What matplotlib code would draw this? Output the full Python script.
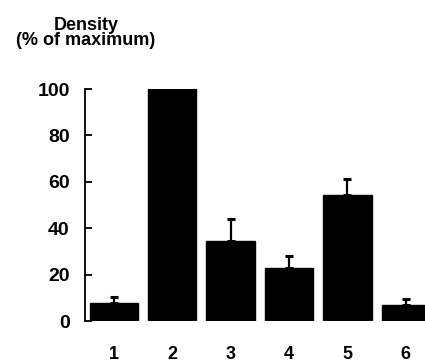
import matplotlib.pyplot as plt

# group labels and mean density (% of maximum), upper error (SEM)
groups = ['1', '2', '3', '4', '5', '6']
density = [7.6, 100, 34.3, 22.8, 54.1, 7.0]
err_upper = [2.6, 0, 9.8, 5.2, 7.0, 2.6]
y_ticks = [0, 20, 40, 60, 80, 100]

plt.rcParams['font.family'] = ['Liberation Sans', 'DejaVu Sans']

fig = plt.figure(figsize=(4.25, 3.63), dpi=100)
ax = fig.add_axes([85 / 425, 42 / 363, 340 / 425, 232 / 363])

x = list(range(1, len(groups) + 1))
ax.bar(x, density, width=0.83, color='black', edgecolor='black')
ax.errorbar(x, density, yerr=[[0] * len(x), err_upper], fmt='none',
            ecolor='black', elinewidth=1.6, capsize=3, capthick=2.2)

ax.set_xlim(0.505, 6.33)
ax.set_ylim(0, 100)
ax.set_yticks(y_ticks)
ax.set_yticklabels([str(v) for v in y_ticks], fontsize=14, fontweight='bold')
ax.tick_params(axis='y', direction='in', length=5, width=1.3, pad=11)
ax.set_xticks(x)
ax.set_xticklabels(groups, fontsize=13, fontweight='bold')
ax.tick_params(axis='x', length=0, pad=18)

for s in ['top', 'right', 'bottom']:
    ax.spines[s].set_visible(False)
ax.spines['left'].set_linewidth(1.3)

fig.text(86 / 425, 1 - 33 / 363, 'Density\n(% of maximum)', ha='center', va='center',
         fontsize=13, fontweight='bold', linespacing=0.92)

fig.savefig('out.png', dpi=100)
